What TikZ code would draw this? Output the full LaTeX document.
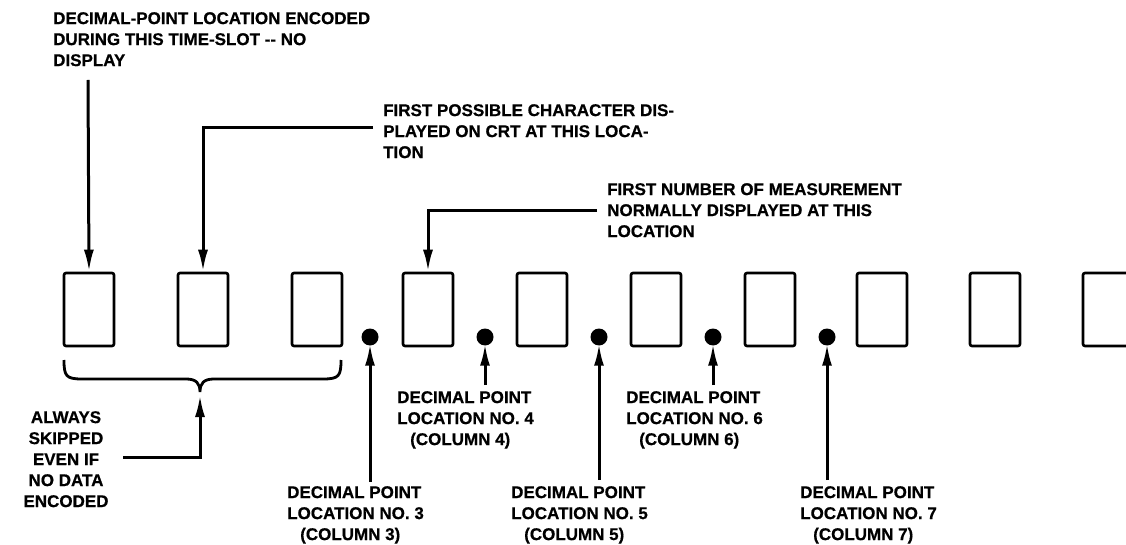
\documentclass[tikz,border=0pt]{standalone}
\usepackage{fontspec}
\setmainfont{Liberation Sans}[BoldFeatures={FakeBold=0.6}]
\usetikzlibrary{arrows.meta}
\begin{document}
\begin{tikzpicture}[x=1pt,y=-1pt,
  box/.style={draw,line width=2.6pt,rounded corners=2pt,minimum width=50pt,minimum height=73pt,inner sep=0pt},
  dotnode/.style={circle,fill,inner sep=0pt,minimum size=17pt},
  lbl/.style={font=\fontsize{17}{21}\selectfont\bfseries,align=left,inner sep=0pt,anchor=north west},
  clbl/.style={font=\fontsize{17}{21}\selectfont\bfseries,align=center,inner sep=0pt,anchor=north},
  arr/.style={line width=3pt,-{Latex[length=22pt,width=10pt]}},
  ln/.style={line width=2.8pt}]
\useasboundingbox (0,0) rectangle (1126,545);
% boxes
\foreach \i/\xl in {1/64,2/178,3/292,4/403,5/517,6/631,7/745,8/857,9/970,10/1083}
  \node[box] (b\i) at (\xl+25,309.5) {};
% dots
\foreach \i/\xc in {1/370,2/485,3/599,4/713,5/827}
  \node[dotnode] (d\i) at (\xc,337) {};
% top texts
\node[lbl] (t1) at (53,12) {DECIMAL-POINT LOCATION ENCODED\\DURING THIS TIME-SLOT -{}- NO\\DISPLAY};
\node[lbl] (t2) at (383,104) {FIRST POSSIBLE CHARACTER DIS-\\PLAYED ON CRT AT THIS LOCA-\\TION};
\node[lbl] (t3) at (607,183) {FIRST NUMBER OF MEASUREMENT\\NORMALLY DISPLAYED AT THIS\\LOCATION};
% top arrows
\coordinate (c1) at (88,80);
\draw[arr] (c1) -- (b1.north);
\coordinate (c2) at (373,128);
\draw[arr] (c2) -| (b2.north);
\coordinate (c3) at (597,211);
\draw[arr] (c3) -| (b4.north);
% brace
\draw[ln] (64,360) .. controls (64,376) and (66,379) .. (82,379) -- (186,379)
  .. controls (196,379) and (200,383) .. (200,392)
  .. controls (200,383) and (204,379) .. (214,379) -- (323,379)
  .. controls (339,379) and (341,376) .. (341,360);
\coordinate (bt) at (200,395);
\coordinate (ba) at (123,457);
\draw[arr] (ba) -| (bt);
\node[clbl] (skip) at (66,411) {ALWAYS\\SKIPPED\\EVEN IF\\NO DATA\\ENCODED};
% decimal point labels
\node[lbl] (l3) at (287,486) {DECIMAL POINT\\LOCATION NO. 3\\\hspace*{13pt}(COLUMN 3)};
\node[lbl] (l4) at (397,391) {DECIMAL POINT\\LOCATION NO. 4\\\hspace*{13pt}(COLUMN 4)};
\node[lbl] (l5) at (511,486) {DECIMAL POINT\\LOCATION NO. 5\\\hspace*{13pt}(COLUMN 5)};
\node[lbl] (l6) at (626,391) {DECIMAL POINT\\LOCATION NO. 6\\\hspace*{13pt}(COLUMN 6)};
\node[lbl] (l7) at (800,486) {DECIMAL POINT\\LOCATION NO. 7\\\hspace*{13pt}(COLUMN 7)};
% dot arrows
\coordinate (e1) at (370,482);
\coordinate (e2) at (485,385);
\coordinate (e3) at (599,480);
\coordinate (e4) at (713,385);
\coordinate (e5) at (827,480);
\foreach \i in {1,...,5}
  \draw[arr] (e\i) -- ([yshift=2pt]d\i.south);
\end{tikzpicture}
\end{document}
